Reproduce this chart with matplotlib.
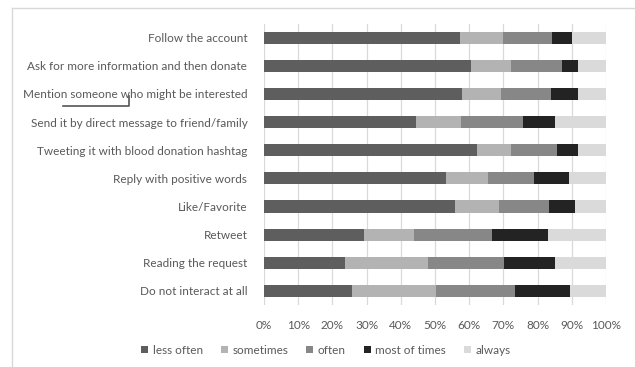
import numpy as np
import matplotlib
matplotlib.use('Agg')
import matplotlib.pyplot as plt
from matplotlib.patches import Patch
from matplotlib.lines import Line2D

plt.rcParams['font.family'] = ['Lato', 'DejaVu Sans']

# survey answers, top row first
actions = ['Follow the account',
           'Ask for more information and then donate',
           'Mention someone who might be interested',
           'Send it by direct message to friend/family',
           'Tweeting it with blood donation hashtag',
           'Reply with positive words',
           'Like/Favorite',
           'Retweet',
           'Reading the request',
           'Do not interact at all']

less_often = [57.3, 60.4, 58.0, 44.3, 62.3, 53.3, 55.8, 29.3, 23.8, 25.8]
sometimes = [12.5, 11.8, 11.4, 13.4, 9.9, 12.1, 12.8, 14.6, 24.2, 24.4]
often = [14.3, 15.0, 14.4, 18.0, 13.5, 13.6, 14.8, 22.8, 22.2, 23.3]
most_of_times = [5.9, 4.7, 8.1, 9.3, 6.2, 10.1, 7.6, 16.4, 14.8, 16.0]
always = [10.0, 8.1, 8.1, 15.0, 8.1, 10.9, 9.0, 16.9, 15.0, 10.5]

series_names = ['less often', 'sometimes', 'often', 'most of times', 'always']
series_colors = ['#5e5e5e', '#b3b3b3', '#878787', '#232323', '#dadada']

W, H = 635, 367
fig = plt.figure(figsize=(W / 100, H / 100), dpi=100)
ax = fig.add_axes([264 / W, 1 - 305 / H, (606 - 264) / W, (305 - 23.6) / H])

y = np.arange(len(actions))
left = np.zeros(len(actions))
for vals, name, col in zip([less_often, sometimes, often, most_of_times, always],
                           series_names, series_colors):
    vals = np.array(vals)
    ax.barh(y, vals, left=left, height=0.43, color=col, label=name, zorder=3)
    left += vals

ax.set_xlim(0, 100)
ax.set_ylim(len(actions) - 0.5, -0.5)
ax.set_xticks(np.arange(0, 101, 10))
ax.set_xticklabels([f'{v}%' for v in range(0, 101, 10)])
ax.set_yticks(y)
ax.set_yticklabels(actions)
ax.tick_params(axis='both', length=0, labelsize=8.5, colors='#595959')
ax.tick_params(axis='y', pad=12)
ax.tick_params(axis='x', pad=11)
ax.grid(axis='x', color='#d9d9d9', linewidth=0.9, zorder=0)
for s in ax.spines.values():
    s.set_visible(False)

handles = [Patch(facecolor=c, edgecolor='none') for c in series_colors]
fig.legend(handles, series_names, loc='center', bbox_to_anchor=(326 / W, 1 - 350 / H),
           ncol=5, frameon=False, fontsize=8.5, labelcolor='#595959',
           handlelength=0.6, handleheight=0.6, handletextpad=0.4, columnspacing=1.5)

# chart frame (top and left edges)
fig.add_artist(Line2D([12 / W, 1], [1 - 8 / H, 1 - 8 / H], color='#d9d9d9', linewidth=1))
fig.add_artist(Line2D([12 / W, 12 / W], [0, 1 - 8 / H], color='#d9d9d9', linewidth=1))

# hand-drawn underline under "someone"
fig.add_artist(Line2D([63 / W, 129 / W, 129 / W],
                      [1 - 106 / H, 1 - 106 / H, 1 - 96 / H],
                      color='#555555', linewidth=1.2))

fig.savefig('out.png', dpi=100)
